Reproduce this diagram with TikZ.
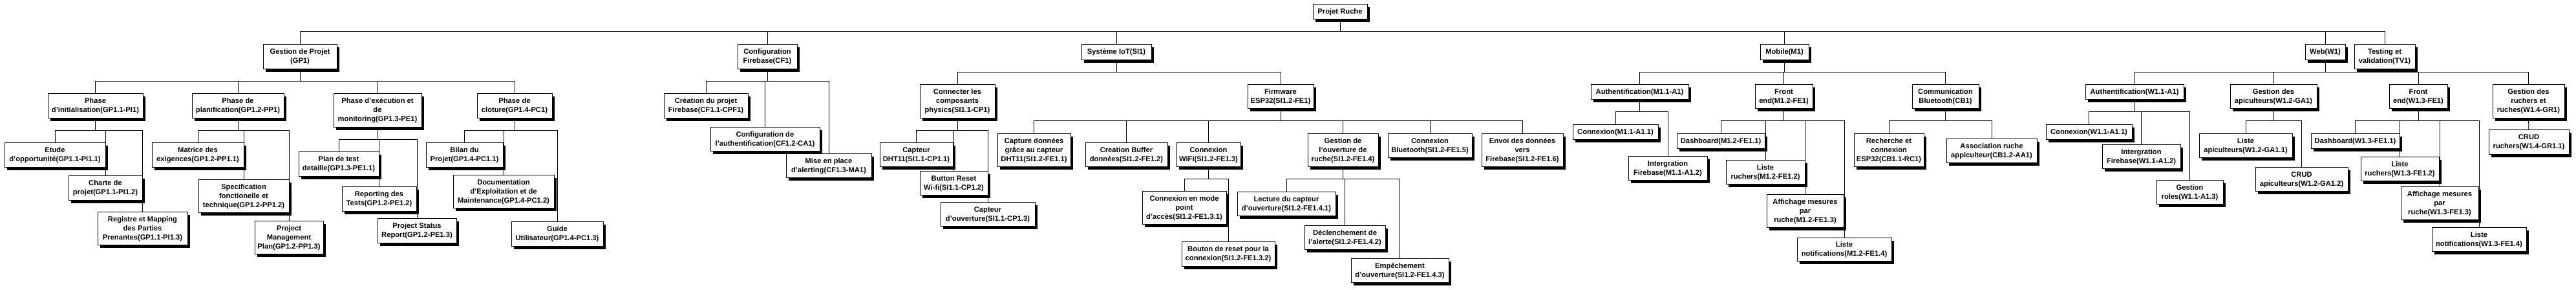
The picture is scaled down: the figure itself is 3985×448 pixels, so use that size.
\documentclass[tikz,border=0pt]{standalone}
\usepackage{fontspec}
\setmainfont{Liberation Sans}
\usetikzlibrary{shadows,backgrounds}
\newcommand\wbsnode[6]{\node[wbsbox, minimum width={(#4-#2)*0.5pt}, minimum height={(#5-#3)*0.5pt}] (#1) at ({(#2+#4)/2},{(#3+#5)/2}) {#6};}
\tikzset{
  wbsbox/.style={draw=black, fill=white, line width=0.5pt, inner sep=0pt, outer sep=0pt,
    align=center, font=\fontsize{5.6pt}{7pt}\selectfont\bfseries,
    general shadow={fill=black, shadow xshift=2pt, shadow yshift=-2pt}},
  wbsline/.style={draw=black, line width=0.5pt}
}
\begin{document}
\begin{tikzpicture}[x=0.5pt,y=-0.5pt]
\useasboundingbox (0,0) rectangle (3985,448);
% top level
\wbsnode{root}{2031}{7}{2115}{30}{Projet Ruche}
\wbsnode{gp}{407}{69}{521}{107}{Gestion de Projet\\(GP1)}
\wbsnode{cf}{1141}{69}{1233}{107}{Configuration\\Firebase(CF1)}
\wbsnode{si}{1673}{69}{1781}{93}{Système IoT(SI1)}
\wbsnode{mo}{2723}{69}{2798}{93}{Mobile(M1)}
\wbsnode{we}{3566}{69}{3628}{93}{Web(W1)}
\wbsnode{tv}{3642}{69}{3736}{107}{Testing et\\validation(TV1)}
% GP1
\wbsnode{pi}{74}{145}{221}{183}{Phase\\d'initialisation(GP1.1-PI1)}
\wbsnode{pp}{297}{145}{439}{183}{Phase de\\planification(GP1.2-PP1)}
\wbsnode{pe}{516}{145}{652}{197}{Phase d'exécution et\\de\\monitoring(GP1.3-PE1)}
\wbsnode{pc}{738}{145}{854}{183}{Phase de\\cloture(GP1.4-PC1)}
\wbsnode{pia}{7}{221}{163}{259}{Etude\\d'opportunité(GP1.1-PI1.1)}
\wbsnode{pib}{106}{272}{220}{310}{Charte de\\projet(GP1.1-PI1.2)}
\wbsnode{pic}{151}{328}{290}{379}{Registre et Mapping\\des Parties\\Prenantes(GP1.1-PI1.3)}
\wbsnode{ppa}{235}{221}{377}{259}{Matrice des\\exigences(GP1.2-PP1.1)}
\wbsnode{ppb}{307}{278}{447}{329}{Specification\\fonctionelle et\\technique(GP1.2-PP1.2)}
\wbsnode{ppc}{394}{342}{500}{393}{Project\\Management\\Plan(GP1.2-PP1.3)}
\wbsnode{pea}{462}{235}{586}{273}{Plan de test\\detaille(GP1.3-PE1.1)}
\wbsnode{peb}{529}{289}{644}{327}{Reporting des\\Tests(GP1.2-PE1.2)}
\wbsnode{pec}{584}{338}{706}{376}{Project Status\\Report(GP1.2-PE1.3)}
\wbsnode{pca}{659}{221}{778}{259}{Bilan du\\Projet(GP1.4-PC1.1)}
\wbsnode{pcb}{701}{271}{857}{322}{Documentation\\d'Exploitation et de\\Maintenance(GP1.4-PC1.2)}
\wbsnode{pcc}{791}{343}{933}{381}{Guide\\Utilisateur(GP1.4-PC1.3)}
% CF1
\wbsnode{cfa}{1027}{145}{1157}{183}{Création du projet\\Firebase(CF1.1-CPF1)}
\wbsnode{cfb}{1099}{197}{1268}{234}{Configuration de\\l'authentification(CF1.2-CA1)}
\wbsnode{cfc}{1216}{238}{1348}{275}{Mise en place\\d'alerting(CF1.3-MA1)}
% SI1
\wbsnode{cp}{1423}{131}{1539}{183}{Connecter les\\composants\\physics(SI1.1-CP1)}
\wbsnode{fe}{1930}{131}{2032}{168}{Firmware\\ESP32(SI1.2-FE1)}
\wbsnode{cpa}{1361}{221}{1474}{258}{Capteur\\DHT11(SI1.1-CP1.1)}
\wbsnode{cpb}{1423}{265}{1528}{302}{Button Reset\\Wi-fi(SI1.1-CP1.2)}
\wbsnode{cpc}{1455}{313}{1601}{350}{Capteur\\d'ouverture(SI1.1-CP1.3)}
\wbsnode{fea}{1543}{207}{1656}{258}{Capture données\\grâce au capteur\\DHT11(SI1.2-FE1.1)}
\wbsnode{feb}{1679}{221}{1806}{258}{Creation Buffer\\données(SI1.2-FE1.2)}
\wbsnode{fec}{1820}{221}{1919}{258}{Connexion\\WiFi(SI1.2-FE1.3)}
\wbsnode{fed}{2023}{207}{2132}{258}{Gestion de\\l'ouverture de\\ruche(SI1.2-FE1.4)}
\wbsnode{fee}{2147}{207}{2277}{244}{Connexion\\Bluetooth(SI1.2-FE1.5)}
\wbsnode{fef}{2292}{207}{2418}{258}{Envoi des données\\vers\\Firebase(SI1.2-FE1.6)}
\wbsnode{feca}{1767}{296}{1897}{347}{Connexion en mode\\point\\d'accès(SI1.2-FE1.3.1)}
\wbsnode{fecb}{1828}{374}{1972}{412}{Bouton de reset pour la\\connexion(SI1.2-FE1.3.2)}
\wbsnode{feda}{1914}{297}{2066}{334}{Lecture du capteur\\d'ouverture(SI1.2-FE1.4.1)}
\wbsnode{fedb}{2018}{349}{2143}{386}{Déclenchement de\\l'alerte(SI1.2-FE1.4.2)}
\wbsnode{fedc}{2090}{400}{2241}{437}{Empêchement\\d'ouverture(SI1.2-FE1.4.3)}
% M1
\wbsnode{ma}{2461}{131}{2612}{154}{Authentification(M1.1-A1)}
\wbsnode{mf}{2715}{131}{2804}{168}{Front\\end(M1.2-FE1)}
\wbsnode{mc}{2958}{131}{3061}{168}{Communication\\Bluetooth(CB1)}
\wbsnode{maa}{2433}{193}{2565}{216}{Connexion(M1.1-A1.1)}
\wbsnode{mab}{2519}{242}{2641}{279}{Intergration\\Firebase(M1.1-A1.2)}
\wbsnode{mfa}{2594}{207}{2730}{230}{Dashboard(M1.2-FE1.1)}
\wbsnode{mfb}{2670}{248}{2792}{285}{Liste\\ruchers(M1.2-FE1.2)}
\wbsnode{mfc}{2733}{301}{2852}{352}{Affichage mesures\\par\\ruche(M1.2-FE1.3)}
\wbsnode{mfd}{2780}{368}{2926}{404}{Liste\\notifications(M1.2-FE1.4)}
\wbsnode{mca}{2868}{207}{2976}{258}{Recherche et\\connexion\\ESP32(CB1.1-RC1)}
\wbsnode{mcb}{3011}{215}{3151}{252}{Association ruche\\appiculteur(CB1.2-AA1)}
% W1
\wbsnode{wa}{3226}{131}{3378}{154}{Authentification(W1.1-A1)}
\wbsnode{wg}{3450}{131}{3584}{168}{Gestion des\\apiculteurs(W1.2-GA1)}
\wbsnode{wf}{3696}{131}{3786}{168}{Front\\end(W1.3-FE1)}
\wbsnode{wr}{3856}{131}{3967}{183}{Gestion des\\ruchers et\\ruches(W1.4-GR1)}
\wbsnode{waa}{3165}{193}{3298}{216}{Connexion(W1.1-A1.1)}
\wbsnode{wab}{3252}{224}{3373}{261}{Intergration\\Firebase(W1.1-A1.2)}
\wbsnode{wac}{3336}{279}{3439}{316}{Gestion\\roles(W1.1-A1.3)}
\wbsnode{wga}{3402}{207}{3546}{244}{Liste\\apiculteurs(W1.2-GA1.1)}
\wbsnode{wgb}{3489}{259}{3632}{296}{CRUD\\apiculteurs(W1.2-GA1.2)}
\wbsnode{wfa}{3575}{207}{3712}{230}{Dashboard(W1.3-FE1.1)}
\wbsnode{wfb}{3652}{243}{3773}{280}{Liste\\ruchers(W1.3-FE1.2)}
\wbsnode{wfc}{3714}{289}{3834}{340}{Affichage mesures\\par\\ruche(W1.3-FE1.3)}
\wbsnode{wfd}{3762}{352}{3908}{389}{Liste\\notifications(W1.3-FE1.4)}
\wbsnode{wra}{3850}{201}{3974}{239}{CRUD\\ruchers(W1.4-GR1.1)}
% connectors
\begin{pgfonlayer}{background}
\fill[white] (0,0) rectangle (3985,448);
\foreach \c in {gp,cf,si,mo,we,tv} \draw[wbsline] (root.south) -- ++(0,19) -| (\c.north);
\foreach \c in {pi,pp,pe,pc} \draw[wbsline] (gp.south) -- ++(0,18.5) -| (\c.north);
\foreach \c in {pia,pib,pic} \draw[wbsline] (pi.south) -- ++(0,18.5) -| (\c.north);
\foreach \c in {ppa,ppb,ppc} \draw[wbsline] (pp.south) -- ++(0,18.5) -| (\c.north);
\foreach \c in {pea,peb,pec} \draw[wbsline] (pe.south) -- ++(0,18.5) -| (\c.north);
\foreach \c in {pca,pcb,pcc} \draw[wbsline] (pc.south) -- ++(0,18.5) -| (\c.north);
\foreach \c in {cfa,cfb,cfc} \draw[wbsline] (cf.south) -- ++(0,18.5) -| (\c.north);
\foreach \c in {cp,fe} \draw[wbsline] (si.south) -- ++(0,18.5) -| (\c.north);
\foreach \c in {cpa,cpb,cpc} \draw[wbsline] (cp.south) -- ++(0,18.5) -| (\c.north);
\foreach \c in {fea,feb,fec,fed,fee,fef} \draw[wbsline] (fe.south) -- ++(0,19) -| (\c.north);
\foreach \c in {feca,fecb} \draw[wbsline] (fec.south) -- ++(0,19) -| (\c.north);
\foreach \c in {feda,fedb,fedc} \draw[wbsline] (fed.south) -- ++(0,19) -| (\c.north);
\foreach \c in {ma,mf,mc} \draw[wbsline] (mo.south) -- ++(0,18.5) -| (\c.north);
\foreach \c in {maa,mab} \draw[wbsline] (ma.south) -- ++(0,19) -| (\c.north);
\foreach \c in {mfa,mfb,mfc,mfd} \draw[wbsline] (mf.south) -- ++(0,19) -| (\c.north);
\foreach \c in {mca,mcb} \draw[wbsline] (mc.south) -- ++(0,19) -| (\c.north);
\foreach \c in {wa,wg,wf,wr} \draw[wbsline] (we.south) -- ++(0,18.5) -| (\c.north);
\foreach \c in {waa,wab,wac} \draw[wbsline] (wa.south) -- ++(0,19) -| (\c.north);
\foreach \c in {wga,wgb} \draw[wbsline] (wg.south) -- ++(0,19) -| (\c.north);
\foreach \c in {wfa,wfb,wfc,wfd} \draw[wbsline] (wf.south) -- ++(0,19) -| (\c.north);
\draw[wbsline] (wr.south) -- (wra.north);
\end{pgfonlayer}
\end{tikzpicture}
\end{document}
